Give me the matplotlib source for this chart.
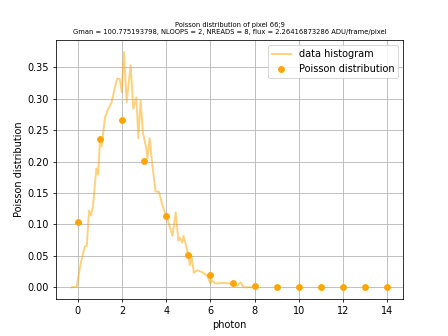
import matplotlib
matplotlib.use("Agg")
import matplotlib.pyplot as plt

# histogram of the measured pixel (normalised)
hist_x = [-0.27, -0.05, 0.14, 0.32, 0.41, 0.51, 0.60, 0.69, 0.84, 0.92,
          1.01, 1.08, 1.23, 1.38, 1.53, 1.72, 1.79, 1.90, 1.99, 2.09,
          2.21, 2.39, 2.51, 2.65, 2.74, 2.84, 2.95, 3.10, 3.15, 3.25,
          3.37, 3.52, 3.67, 3.79, 3.97, 4.10, 4.28, 4.43, 4.55, 4.62,
          4.72, 4.78, 4.92, 4.99, 5.07, 5.13, 5.25, 5.40, 5.63, 5.86,
          6.00, 6.05, 6.23, 6.60, 6.90, 7.20, 7.36, 7.50, 8.00]
hist_y = [0.000, 0.001, 0.039, 0.065, 0.066, 0.122, 0.114, 0.130, 0.189, 0.179,
          0.237, 0.224, 0.270, 0.284, 0.294, 0.324, 0.332, 0.331, 0.310, 0.374,
          0.294, 0.353, 0.284, 0.302, 0.237, 0.297, 0.245, 0.221, 0.205, 0.237,
          0.195, 0.152, 0.152, 0.135, 0.116, 0.103, 0.082, 0.119, 0.074, 0.079,
          0.071, 0.082, 0.063, 0.052, 0.035, 0.052, 0.023, 0.027, 0.024, 0.018,
          0.006, 0.011, 0.006, 0.007, 0.006, 0.002, 0.008, 0.000, 0.000]

# poisson probabilities for flux = 2.264
photons = [0, 1, 2, 3, 4, 5, 6, 7, 8, 9, 10, 11, 12, 13, 14]
poisson = [0.1039, 0.2353, 0.2664, 0.2010, 0.1138, 0.0515, 0.0194, 0.0063,
           0.0018, 0.0004, 0.0001, 0.0, 0.0, 0.0, 0.0]

fig = plt.figure(figsize=(6.4, 4.8), dpi=70)
ax = fig.add_subplot()
ax.plot(hist_x, hist_y, color='orange', alpha=0.5, lw=2, label='data histogram')
ax.plot(photons, poisson, 'o', color='orange', label='Poisson distribution')
ax.set_title('Poisson distribution of pixel 66;9\n'
             'Gman = 100.775193798, NLOOPS = 2, NREADS = 8, '
             'flux = 2.26416873286 ADU/frame/pixel', fontsize=7)
ax.set_xlabel('photon')
ax.set_ylabel('Poisson distribution')
ax.grid(True)
ax.legend(loc='upper right')

fig.savefig('out.png', dpi=70)
